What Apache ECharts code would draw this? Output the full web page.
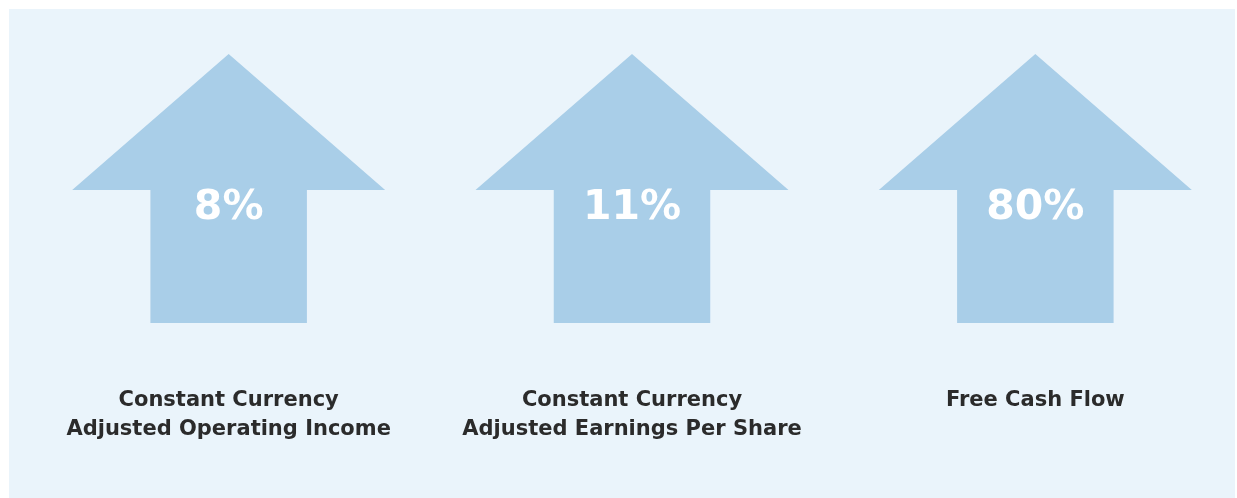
<!DOCTYPE html>
<html>
<head>
<meta charset="utf-8">
<script src="https://cdn.jsdelivr.net/npm/echarts@6/dist/echarts.min.js"></script>
<style>
  html, body { margin: 0; padding: 0; background: #ffffff; }
  #chart { width: 1237px; height: 498px; }
</style>
</head>
<body>
<div id="chart"></div>
<script>
// ---- data ----
const categories = [
  'Constant Currency\nAdjusted Operating Income',
  'Constant Currency\nAdjusted Earnings Per Share',
  'Free Cash Flow'
];
const growthValues = [8, 11, 80];        // % increase
const valueLabels = ['8%', '11%', '80%'];

// ---- chart ----
const chart = echarts.init(document.getElementById('chart'), null, { renderer: 'canvas' });

const option = {
  animation: false,
  backgroundColor: '#ffffff',
  graphic: [{
    type: 'rect',
    z: -10,
    shape: { x: 9, y: 9, width: 1226, height: 489 },
    style: { fill: '#eaf4fb' }
  }],
  grid: { left: 27, right: 1237 - 27 - 1213, top: 54, bottom: 175 },
  xAxis: {
    type: 'category',
    data: categories,
    axisLine: { show: false },
    axisTick: { show: false },
    splitLine: { show: false },
    axisLabel: {
      margin: 63,
      interval: 0,
      fontFamily: 'DejaVu Sans',
      fontWeight: 'bold',
      fontSize: 21,
      lineHeight: 29,
      color: '#2b2b2b',
      verticalAlign: 'top',
      align: 'center',
      rich: {}
    }
  },
  yAxis: {
    type: 'value',
    min: 0,
    max: 1,
    show: false
  },
  series: [{
    type: 'custom',
    data: growthValues.map((v, i) => [i, v]),
    renderItem: function (params, api) {
      const idx = api.value(0);
      const tip = api.coord([idx, 1]);
      const bottom = api.coord([idx, 0]);
      const band = api.size([1, 0])[0];
      const headHalf = band * 0.388;
      const shaftHalf = band * 0.194;
      const headBaseY = tip[1] + (bottom[1] - tip[1]) * 0.506;
      const cx = tip[0];
      const pts = [
        [cx, tip[1]],
        [cx + headHalf, headBaseY],
        [cx + shaftHalf, headBaseY],
        [cx + shaftHalf, bottom[1]],
        [cx - shaftHalf, bottom[1]],
        [cx - shaftHalf, headBaseY],
        [cx - headHalf, headBaseY]
      ];
      return {
        type: 'group',
        children: [{
          type: 'polygon',
          shape: { points: pts },
          style: { fill: '#a9cee8' }
        }, {
          type: 'text',
          x: cx,
          y: headBaseY + 18,
          style: {
            text: valueLabels[params.dataIndex],
            fill: '#ffffff',
            fontFamily: 'DejaVu Sans',
            fontWeight: 'bold',
            fontSize: 41,
            align: 'center',
            verticalAlign: 'middle'
          }
        }]
      };
    }
  }]
};

chart.setOption(option);
</script>
</body>
</html>
